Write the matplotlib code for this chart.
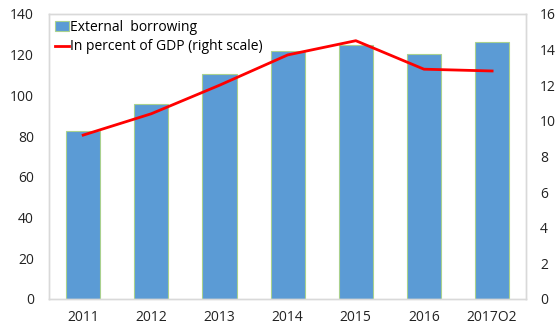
import matplotlib.pyplot as plt
import numpy as np

plt.rcParams['font.family'] = ['Open Sans', 'DejaVu Sans']

# external borrowing (left) and share of GDP in percent (right)
years = ['2011', '2012', '2013', '2014', '2015', '2016', '2017O2']
borrowing = [82.5, 96, 110.5, 122, 125, 120.5, 126]
pct_gdp = [9.2, 10.4, 12.0, 13.7, 14.5, 12.9, 12.8]

fig = plt.figure(figsize=(5.58, 3.25), dpi=100)
ax = fig.add_axes([0.088, 0.08, 0.855, 0.877])
x = np.arange(len(years))

bars = ax.bar(x, borrowing, width=0.5, color='#5b9bd5', edgecolor='#a9d18e',
              linewidth=0.8, label='External  borrowing', zorder=2)
ax.set_xlim(-0.5, len(years) - 0.5)
ax.set_ylim(0, 140)
ax.set_yticks(range(0, 141, 20))
ax.set_xticks(x)
ax.set_xticklabels(years)

ax2 = ax.twinx()
line, = ax2.plot(x, pct_gdp, color='#ff0000', linewidth=2,
                 label='In percent of GDP (right scale)', zorder=3)
ax2.set_ylim(0, 16)
ax2.set_yticks(range(0, 17, 2))

for a in (ax, ax2):
    a.tick_params(length=0, labelsize=10, colors='#222222')
    for s in a.spines.values():
        s.set_color('#d9d9d9')
        s.set_linewidth(1)
ax.tick_params(axis='x', pad=8)
ax.tick_params(axis='y', pad=11)
ax2.tick_params(axis='y', pad=10)

ax2.legend([bars, line], [bars.get_label(), line.get_label()],
           loc='upper left', frameon=False, fontsize=10,
           handlelength=1.0, handletextpad=0.1, borderaxespad=0.3,
           labelspacing=0.35, borderpad=0.1)

fig.savefig('out.png', dpi=100)
